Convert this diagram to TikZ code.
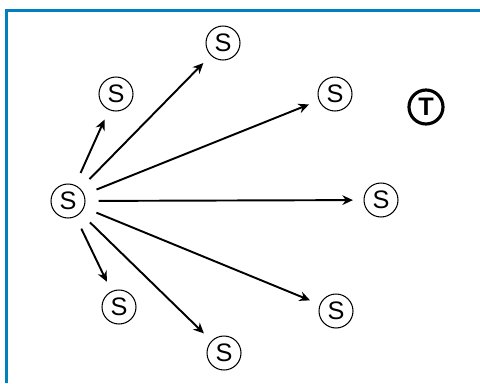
\documentclass[tikz,border=0pt]{standalone}
\usepackage{fontspec}
\setmainfont{Liberation Sans}
\usetikzlibrary{arrows.meta}

\definecolor{frameblue}{RGB}{0,128,192}

\begin{document}
\begin{tikzpicture}[x=0.02cm, y=-0.02cm,
  every node/.style={font=\Large},
  site/.style={circle, draw, line width=0.6pt, minimum size=0.68cm, inner sep=0pt},
  target/.style={circle, draw, line width=1.8pt, minimum size=0.68cm, inner sep=0pt, font=\Large\bfseries},
  link/.style={-{Stealth[length=6pt,width=5.5pt]}, line width=1.1pt, shorten <=7.5pt, shorten >=6pt}]

\useasboundingbox (0,0) rectangle (480,383);

% ---------- FRAME ----------
\draw[frameblue, line width=1.7pt] (6.5,383) -- (6.5,10.5) -- (480,10.5);

% ---------- NODES ----------
\node[site] (c)  at (68,201)  {S};
\node[site] (s1) at (116,94)  {S};
\node[site] (s2) at (223,43)  {S};
\node[site] (s3) at (335,94)  {S};
\node[site] (s4) at (381,200) {S};
\node[site] (s5) at (336,311) {S};
\node[site] (s6) at (224,353) {S};
\node[site] (s7) at (119,307) {S};
\node[target] (t) at (426,107) {T};

% ---------- ARROWS ----------
\foreach \n in {s1,s2,s3,s4,s5,s6,s7}
  \draw[link] (c) -- (\n);

\end{tikzpicture}
\end{document}
